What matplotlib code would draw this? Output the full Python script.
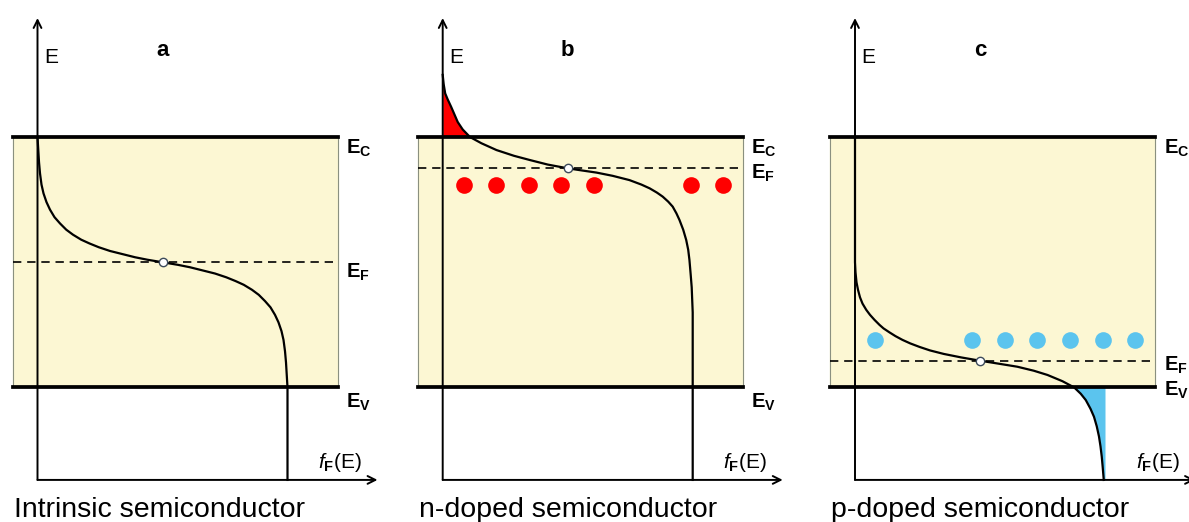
import matplotlib.pyplot as plt
import numpy as np

plt.rcParams['font.family'] = 'Liberation Sans'
plt.rcParams['mathtext.fontset'] = 'custom'
plt.rcParams['mathtext.rm'] = 'Liberation Sans'
plt.rcParams['mathtext.it'] = 'Liberation Sans:italic'
plt.rcParams['mathtext.bf'] = 'Liberation Sans:bold'

# energy levels (E_V = 0, E_C = 1)
E_C = 1.0
E_V = 0.0
E_F = [0.5, 0.875, 0.107]

# occupation curves: energy, f_F(E)
E_a = [1.0, 0.95, 0.9, 0.855, 0.81, 0.775, 0.74, 0.71, 0.68, 0.655, 0.63, 0.61,
       0.59, 0.575, 0.56, 0.545, 0.53, 0.52, 0.51, 0.5,
       0.49, 0.48, 0.47, 0.455, 0.44, 0.425, 0.41, 0.39, 0.37, 0.345, 0.32,
       0.29, 0.26, 0.225, 0.19, 0.145, 0.1, 0.05, 0.0, -0.369]
f_a = [0.0, 0.003, 0.006, 0.01, 0.016, 0.024, 0.036, 0.05, 0.068, 0.09, 0.115, 0.142,
       0.175, 0.208, 0.245, 0.29, 0.35, 0.39, 0.44, 0.5,
       0.56, 0.61, 0.65, 0.71, 0.755, 0.792, 0.825, 0.858, 0.885, 0.91, 0.932,
       0.95, 0.964, 0.976, 0.984, 0.99, 0.994, 0.997, 1.0, 1.0]

E_b = [1.248, 1.21, 1.174, 1.15, 1.12, 1.09, 1.06, 1.03, 1.0, 0.975, 0.948, 0.925,
       0.908, 0.89, 0.875, 0.866, 0.858, 0.845, 0.828, 0.81, 0.795, 0.778, 0.762,
       0.742, 0.722, 0.695, 0.669, 0.63, 0.589, 0.55, 0.509, 0.45, 0.40, 0.35,
       0.30, -0.369]
f_b = [0.0, 0.004, 0.01, 0.02, 0.034, 0.047, 0.06, 0.08, 0.109, 0.155, 0.215, 0.285,
       0.349, 0.42, 0.5, 0.56, 0.615, 0.68, 0.747, 0.795, 0.828, 0.857, 0.88,
       0.902, 0.92, 0.935, 0.947, 0.962, 0.974, 0.982, 0.987, 0.992, 0.996, 0.998,
       1.0, 1.0]

E_c = [1.0, 0.5, 0.46, 0.42, 0.39, 0.36, 0.335, 0.31, 0.29, 0.27, 0.25, 0.236,
       0.22, 0.205, 0.19, 0.176, 0.162, 0.148, 0.134, 0.12, 0.107, 0.095, 0.083,
       0.067, 0.05, 0.025, 0.0, -0.025, -0.05, -0.085, -0.117, -0.155, -0.196,
       -0.235, -0.276, -0.32, -0.369]
f_c = [0.0, 0.0, 0.002, 0.006, 0.012, 0.02, 0.03, 0.045, 0.06, 0.078, 0.098, 0.114,
       0.138, 0.162, 0.19, 0.221, 0.258, 0.3, 0.355, 0.425, 0.5, 0.575, 0.649,
       0.715, 0.77, 0.83, 0.877, 0.903, 0.923, 0.942, 0.956, 0.967, 0.976,
       0.982, 0.987, 0.991, 0.995]

# dopant dots
donor_f = [0.086, 0.215, 0.344, 0.474, 0.604, 0.994, 1.12]
donor_E = 0.808
acceptor_f = [0.08, 0.469, 0.598, 0.729, 0.859, 0.99, 1.12]
acceptor_E = 0.19

letters = ['a', 'b', 'c']
titles = ['Intrinsic semiconductor', 'n-doped semiconductor', 'p-doped semiconductor']
# label tops for E_C, E_F, E_V
label_y = [[0.996, 0.502, -0.017], [0.996, 0.896, -0.017], [0.996, 0.13, 0.03]]

BOX = (-0.1, 1.2)
AX_BOTTOM = -0.369
AX_TOP = 1.475
AX_RIGHT = 1.36
BAND = '#FCF7D3'
RED = '#FF0000'
BLUE = '#5BC4EE'

W, H = 1189, 522
fig = plt.figure(figsize=(W / 100, H / 100), dpi=100)
origins = [37.5, 442.7, 855]
curves = [(E_a, f_a), (E_b, f_b), (E_c, f_c)]

for i in range(3):
    ax = fig.add_axes([(origins[i] - 37.5) / W, 0, 400 / W, 1])
    ax.set_xlim(-0.15, 1.45)
    ax.set_ylim(-0.537, 1.547)
    ax.axis('off')

    # band gap box
    ax.fill_between(BOX, E_V, E_C, color=BAND, zorder=0)
    ax.plot([BOX[0], BOX[0]], [E_V, E_C], color='#8a9080', lw=0.8, zorder=1)
    ax.plot([BOX[1], BOX[1]], [E_V, E_C], color='#8a9080', lw=0.8, zorder=1)
    ax.plot(BOX, [E_C, E_C], color='black', lw=2.7, zorder=3)
    ax.plot(BOX, [E_V, E_V], color='black', lw=2.7, zorder=3)
    ax.plot(BOX, [E_F[i], E_F[i]], color='black', lw=1.2,
            ls=(0, (5, 3.5)), zorder=2)

    E, f = np.array(curves[i][0]), np.array(curves[i][1])
    if i == 1:
        m = E >= E_C
        ax.fill_betweenx(E[m], 0, f[m], color=RED, lw=0, zorder=2)
        ax.plot(donor_f, [donor_E] * len(donor_f), 'o', color=RED,
                ms=12, mew=0, zorder=2)
    if i == 2:
        m = E <= E_V
        ax.fill_betweenx(E[m], f[m], 1.0, color=BLUE, lw=0, zorder=2)
        ax.plot(acceptor_f, [acceptor_E] * len(acceptor_f), 'o', color=BLUE,
                ms=12, mew=0, zorder=2)

    ax.plot(f, E, color='black', lw=1.6, zorder=4, solid_joinstyle='round')
    ax.plot([0.5], [E_F[i]], 'o', ms=6, mfc='white', mec='#3c4a5a',
            mew=1, zorder=5)

    # axes arrows
    arrow = dict(arrowstyle='->', lw=1.4, color='black', shrinkA=0,
                 shrinkB=0, mutation_scale=14)
    ax.annotate('', xy=(0, AX_TOP), xytext=(0, AX_BOTTOM),
                arrowprops=arrow, annotation_clip=False, zorder=6)
    ax.annotate('', xy=(AX_RIGHT, AX_BOTTOM), xytext=(0, AX_BOTTOM),
                arrowprops=arrow, annotation_clip=False, zorder=6)

    # texts
    ax.text(0.026, 1.354, 'E', fontsize=15, ha='left', va='top')
    ax.text(0.5, 1.347, letters[i], fontsize=16, fontweight='bold',
            ha='center', va='center')
    for lab, yy in zip(['C', 'F', 'V'], label_y[i]):
        ax.text(1.235, yy, r'$\mathbf{E}_\mathbf{%s}$' % lab, fontsize=14.5,
                ha='left', va='top')
    ax.text(1.122, -0.323, r'$\mathit{f}_\mathbf{F}\mathrm{(E)}$', fontsize=15,
            ha='left', va='baseline')
    ax.text(-0.095, -0.517, titles[i], fontsize=20.5, ha='left', va='baseline')

fig.savefig('out.png', dpi=100)
